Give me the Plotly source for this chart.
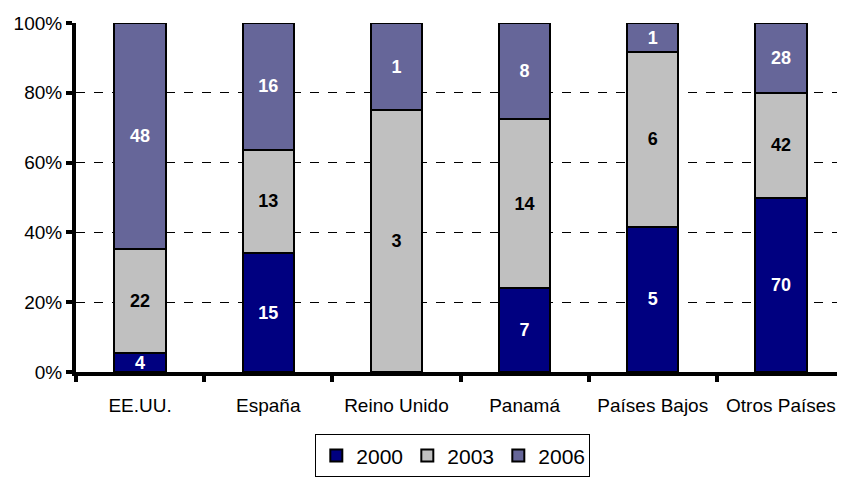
import plotly.graph_objects as go

# Datos por país y año
paises = ["EE.UU.", "España", "Reino Unido", "Panamá", "Países Bajos", "Otros Países"]
v2000 = [4, 15, 0, 7, 5, 70]
v2003 = [22, 13, 3, 14, 6, 42]
v2006 = [48, 16, 1, 8, 1, 28]
ticks_y = [0, 20, 40, 60, 80, 100]

series = [
    ("2000", v2000, "#000080", "white"),
    ("2003", v2003, "#C0C0C0", "black"),
    ("2006", v2006, "#666699", "white"),
]

fig = go.Figure()
for nombre, vals, color, txt in series:
    fig.add_trace(go.Bar(
        x=paises, y=vals, name=nombre,
        # sin borde en los segmentos vacíos
        marker=dict(color=color, line=dict(color="black", width=[2 if v else 0 for v in vals])),
        text=[str(v) if v else "" for v in vals],
        textposition="inside", insidetextanchor="middle", textangle=0,
        textfont=dict(color=txt, size=18, family="Liberation Sans"),
        texttemplate="<b>%{text}</b>",
        constraintext="none",
    ))

# la página tiene 8px de margen en el body, se compensa aquí
fig.update_layout(
    barmode="stack", barnorm="percent", bargap=0.6,
    width=837, height=472,
    margin=dict(l=68, r=0, t=15, b=108),
    plot_bgcolor="white", paper_bgcolor="white",
    font=dict(family="Liberation Sans", size=19, color="black"),
    showlegend=True,
    legend=dict(
        orientation="h", x=0.49, y=-0.302, xanchor="center", yanchor="bottom",
        bordercolor="black", borderwidth=1, font=dict(size=21),
        traceorder="normal", entrywidth=46, entrywidthmode="pixels",
    ),
    xaxis=dict(
        showline=True, linecolor="black", linewidth=4,
        ticks="outside", tickson="boundaries", ticklen=6, tickwidth=4, tickcolor="black",
        ticklabelstandoff=13,
    ),
    yaxis=dict(
        range=[0, 100], tickmode="array", tickvals=ticks_y,
        ticktext=[f"{t}%" for t in ticks_y],
        showline=True, linecolor="black", linewidth=4,
        ticks="outside", ticklen=6, tickwidth=4, tickcolor="black",
        showgrid=True, gridcolor="black", griddash="dash", gridwidth=1,
        zeroline=False,
    ),
)

fig.write_html("out.html")
